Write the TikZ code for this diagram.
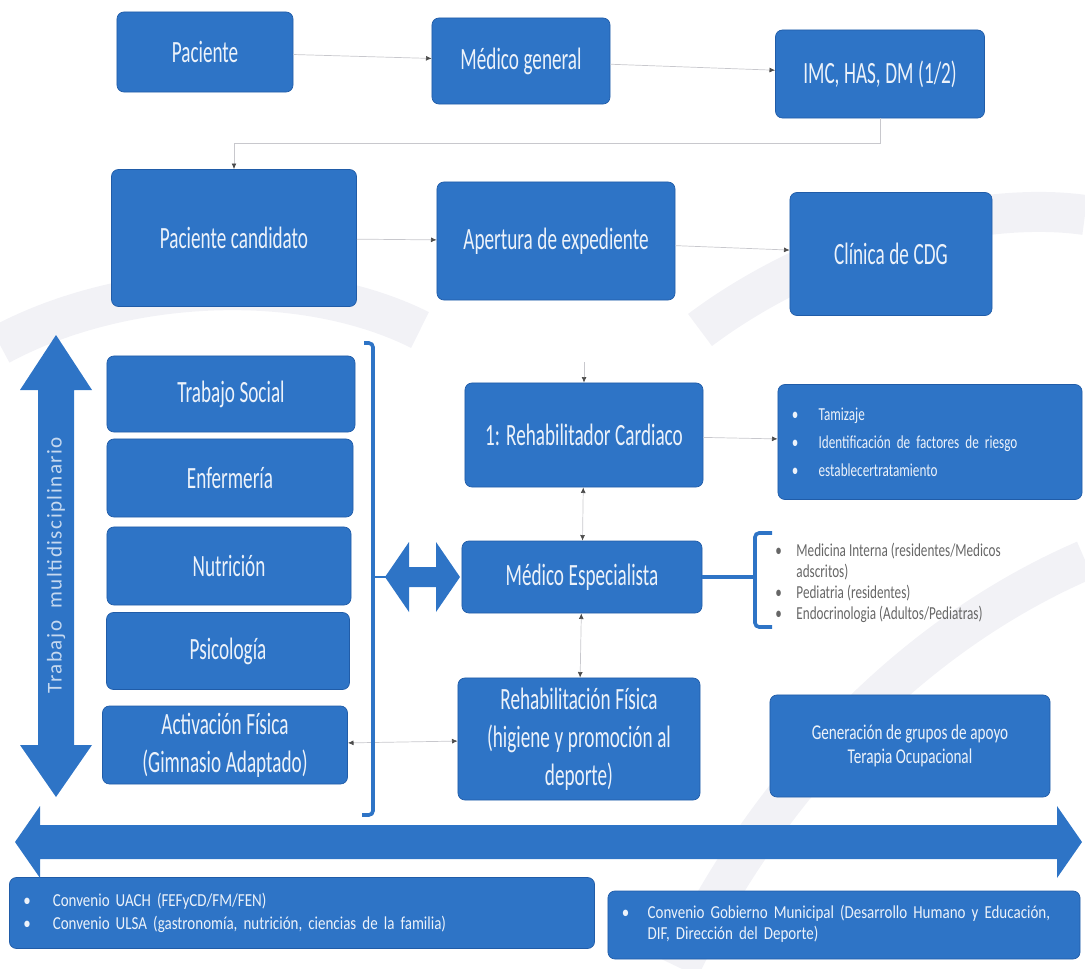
\documentclass[tikz,border=0pt]{standalone}
\usepackage{fontspec}
\setmainfont{Carlito}
\newfontfamily\boxfont{Carlito}[FakeStretch=0.62]
\newfontfamily\listfont{Carlito}[FakeStretch=0.72]
\newfontfamily\footfont{Carlito}[FakeStretch=0.82]
\newfontfamily\sidefont{Carlito}[LetterSpace=7]
\newcommand\boxtype{\boxfont\fontsize{22}{27}\selectfont\spaceskip .15em\relax}
\newcommand\listtype[2]{\listfont\fontsize{#1}{#2}\selectfont\spaceskip .17em\relax}
\newcommand\foottype[2]{\footfont\fontsize{#1}{#2}\selectfont\spaceskip .19em\relax}
\usetikzlibrary{arrows.meta}
\definecolor{boxblue}{RGB}{46,116,198}
\definecolor{boxedge}{RGB}{32,92,168}
\definecolor{boxtext}{RGB}{236,242,250}
\definecolor{flowgray}{RGB}{200,200,205}
\definecolor{wmgray}{RGB}{242,242,246}
\tikzset{
  box/.style={rectangle, rounded corners=5pt, fill=boxblue, draw=boxedge,
    line width=.5pt, text=boxtext, align=center, inner sep=2pt,
    font=\boxtype},
  note/.style={box, align=left, inner xsep=.35cm, font=\listtype{13}{20}},
  flow/.style={draw=flowgray, line width=.5pt,
    -{Latex[length=4pt,width=3.5pt,color=black!70]}},
  both/.style={draw=flowgray, line width=.5pt,
    {Latex[length=4pt,width=3.5pt,color=black!70]}-{Latex[length=4pt,width=3.5pt,color=black!70]}},
  brace/.style={draw=boxblue, line width=2.6pt, rounded corners=3pt},
  wm/.style={draw=wmgray, line width=1cm},
}
\begin{document}
\begin{tikzpicture}[x=0.025cm, y=-0.025cm]
  \useasboundingbox (0,0) rectangle (1085,968);
  % faint background bands
  \draw[wm] (0,345) .. controls (120,280) and (300,270) .. (420,330);
  \draw[wm] (700,330) .. controls (820,240) and (980,200) .. (1085,215);
  \draw[wm] (680,968) .. controls (760,800) and (900,640) .. (1085,560);

  % first row
  \node[box, minimum width=4.4cm,   minimum height=2cm]     (P)   at (205,52)  {Paciente};
  \node[box, minimum width=4.45cm,  minimum height=2.15cm]  (MG)  at (521,61)  {Médico general};
  \node[box, minimum width=5.225cm, minimum height=2.2cm]   (IMC) at (880,74)  {IMC, HAS, DM (1/2)};
  % second row
  \node[box, minimum width=6.125cm, minimum height=3.425cm] (PC)  at (234,238) {Paciente candidato};
  \node[box, minimum width=5.95cm,  minimum height=2.95cm]  (AE)  at (556,241) {Apertura de expediente};
  \node[box, minimum width=5.05cm,  minimum height=3.075cm] (CDG) at (891,254) {Clínica de CDG};
  % left column
  \node[box, minimum width=6.2cm,   minimum height=1.9cm]   (TS)  at (231,394) {Trabajo Social};
  \node[box, minimum width=6.15cm,  minimum height=1.95cm]  (EN)  at (230,478) {Enfermería};
  \node[box, minimum width=6.1cm,   minimum height=1.95cm]  (NU)  at (229,566) {Nutrición};
  \node[box, minimum width=6.075cm, minimum height=1.925cm] (PS)  at (228,651) {Psicología};
  \node[box, minimum width=6.125cm, minimum height=1.95cm]  (AF)  at (225,745) {Activación Física\\(Gimnasio Adaptado)};
  % middle column
  \node[box, minimum width=5.95cm,  minimum height=2.6cm]   (RC)  at (584,435) {1: Rehabilitador Cardiaco};
  \node[box, minimum width=6cm,     minimum height=1.8cm]   (ME)  at (582,577) {Médico Especialista};
  \node[box, minimum width=6.05cm,  minimum height=3.05cm]  (RF)  at (579,739) {Rehabilitación Física\\(higiene y promoción al\\deporte)};
  % right column
  \node[note, text width=6.9cm, minimum height=2.875cm]     (TZ)  at (930,442)
    {\textbullet\hspace{1.1em}Tamizaje\\
     \textbullet\hspace{1.1em}Identificación de factores de riesgo\\
     \textbullet\hspace{1.1em}establecertratamiento};
  \node[box, minimum width=7cm, minimum height=2.55cm,
        font=\listtype{15}{17}]                             (GA)  at (910,746)
    {Generación de grupos de apoyo\\Terapia Ocupacional};
  \node[anchor=west, text=black!60, inner sep=0pt,
        font=\listtype{13}{15}]                             (ML)  at (775,584)
    {\begin{tabular}{@{}l@{\hspace{.8em}}l@{}}
      \textbullet & Medicina Interna (residentes/Medicos\\
                  & adscritos)\\
      \textbullet & Pediatria (residentes)\\
      \textbullet & Endocrinologia (Adultos/Pediatras)
     \end{tabular}};
  % agreements
  \node[note, text width=13.925cm, minimum height=1.775cm,
        font=\foottype{13}{16}]                             (UA)  at (302,913)
    {\textbullet\hspace{1.2em}Convenio UACH (FEFyCD/FM/FEN)\\
     \textbullet\hspace{1.2em}Convenio ULSA (gastronomía, nutrición, ciencias de la familia)};
  \node[note, text width=11.1cm, minimum height=1.7cm,
        font=\foottype{13}{15}]                             (GM)  at (844,925)
    {\begin{tabular}{@{}l@{\hspace{1em}}l@{}}
      \textbullet & Convenio Gobierno Municipal (Desarrollo Humano y Educación,\\
                  & DIF, Dirección del Deporte)
     \end{tabular}};

  % flow
  \coordinate (RT) at (584,362);
  \path[flow]
    (P)  edge (MG)
    (MG) edge (IMC)
    (PC) edge (AE)
    (AE) edge (CDG)
    (RC) edge (TZ);
  \draw[flow] (RT) -- (RC.north);
  \draw[flow] (IMC.south) -- ++(0,25) -| (PC.north);
  \path[both]
    (RC) edge (ME)
    (ME) edge (RF)
    (AF) edge (RF);

  % brackets
  \coordinate (LB) at (373,577);
  \coordinate (MB) at (755,577);
  \draw[brace] (364,343) -- (373,343) -- (373,815) -- (362,815);
  \draw[brace] (772,533) -- (MB |- 0,533) -- (MB |- 0,627) -- (772,627);
  \draw[brace] (ME.east) -- (MB);
  \draw[draw=boxblue, line width=1.5pt] (LB) -- (386,577);

  % wide arrows
  \fill[boxblue] (385,577) -- (409,542) -- (409,567) -- (436,567) -- (436,542)
    -- (460,577) -- (436,612) -- (436,587) -- (409,587) -- (409,612) -- cycle;
  \fill[boxblue] (56,335) -- (92,390) -- (74,390) -- (74,745) -- (92,745)
    -- (56,797) -- (20,745) -- (38,745) -- (38,390) -- (20,390) -- cycle;
  \fill[boxblue] (15,842) -- (40,806) -- (40,825) -- (1057,825) -- (1057,806)
    -- (1082,842) -- (1057,878) -- (1057,859) -- (40,859) -- (40,878) -- cycle;
  \node[rotate=90, text=boxtext!80!boxblue,
        font=\sidefont\fontsize{15}{17}\selectfont] (TM) at (56,565) {Trabajo\ \ multidisciplinario};
\end{tikzpicture}
\end{document}
